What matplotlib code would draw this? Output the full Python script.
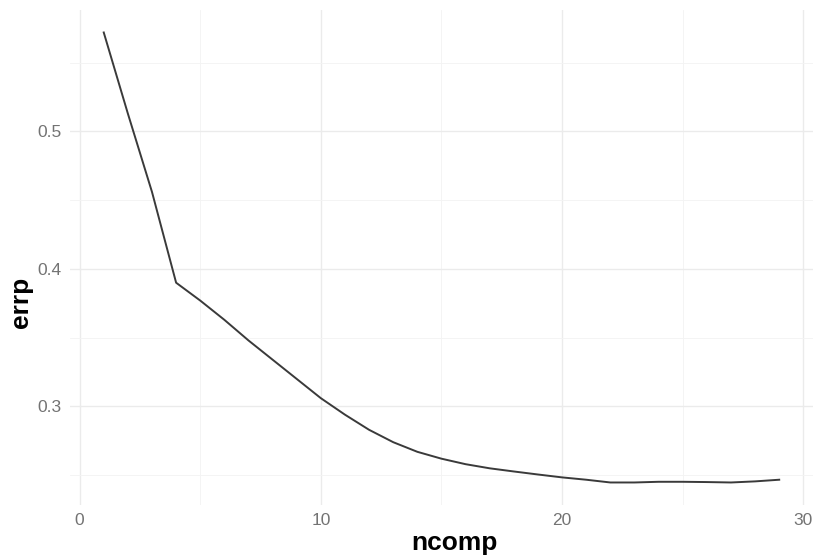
import matplotlib
matplotlib.use("Agg")
import matplotlib.pyplot as plt
from matplotlib.ticker import MultipleLocator

ncomp = [1, 2, 3, 4, 5, 6, 7, 8, 9, 10, 11, 12, 13, 14, 15,
         16, 17, 18, 19, 20, 21, 22, 23, 24, 25, 26, 27, 28, 29]
errp = [0.572, 0.513, 0.456, 0.390, 0.377, 0.363, 0.348, 0.334, 0.320, 0.306,
        0.294, 0.283, 0.274, 0.267, 0.262, 0.258, 0.255, 0.2527, 0.2505, 0.2484,
        0.2467, 0.2447, 0.2447, 0.2452, 0.2452, 0.2450, 0.2447, 0.2455, 0.2467]

plt.rcParams['font.family'] = ['Liberation Sans', 'DejaVu Sans']

fig = plt.figure(figsize=(8.3, 5.57), dpi=100)
ax = fig.add_axes([0.0843, 0.0934, 0.8952, 0.8887])

ax.plot(ncomp, errp, color='#3a3a3a', linewidth=1.4, zorder=3)

xr = max(ncomp) - min(ncomp)
yr = max(errp) - min(errp)
ax.set_xlim(min(ncomp) - 0.05 * xr, max(ncomp) + 0.05 * xr)
ax.set_ylim(min(errp) - 0.05 * yr, max(errp) + 0.05 * yr)

ax.xaxis.set_major_locator(MultipleLocator(10))
ax.xaxis.set_minor_locator(MultipleLocator(5))
ax.yaxis.set_major_locator(MultipleLocator(0.1))
ax.yaxis.set_minor_locator(MultipleLocator(0.05))

ax.grid(which='major', color='#ebebeb', linewidth=1.0)
ax.grid(which='minor', color='#f3f3f3', linewidth=0.6)
ax.set_axisbelow(True)
for s in ax.spines.values():
    s.set_visible(False)
ax.tick_params(which='both', length=0, labelsize=12.5, labelcolor='#737373', pad=6)

ax.set_xlabel('ncomp', fontsize=19, fontweight='bold')
ax.set_ylabel('errp', fontsize=19, fontweight='bold')
ax.xaxis.set_label_coords(0.518, -0.052)
ax.yaxis.set_label_coords(-0.05, 0.41)

fig.savefig('out.png', dpi=100, facecolor='white')
plt.close(fig)
